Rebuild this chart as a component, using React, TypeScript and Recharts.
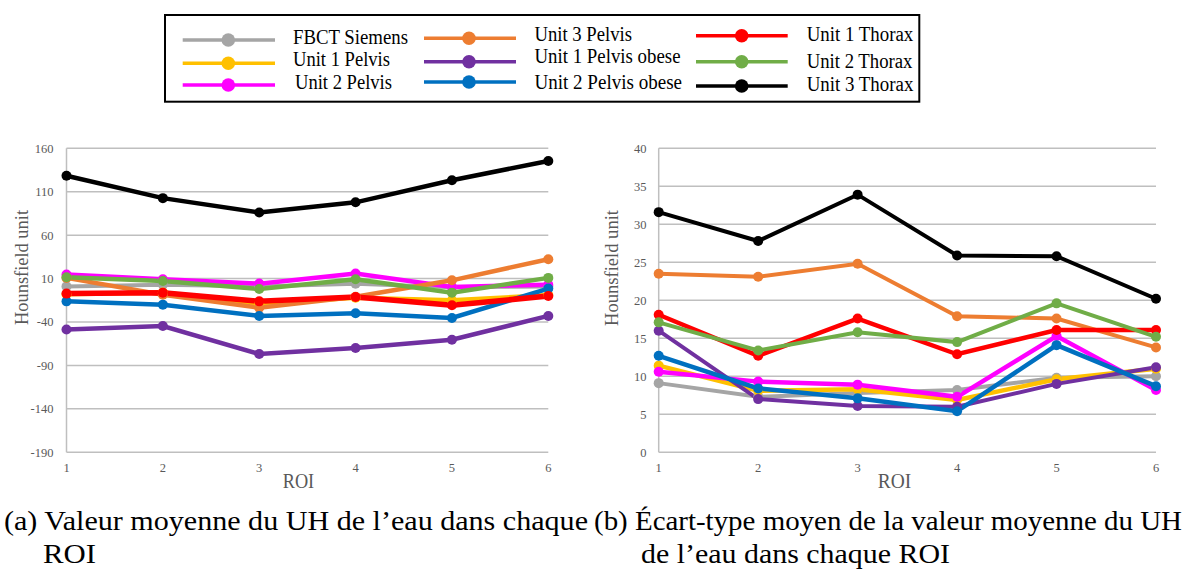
import React from 'react';
import { LineChart, Line, XAxis, YAxis, CartesianGrid } from 'recharts';

// ---------- data ----------
const roi = [1, 2, 3, 4, 5, 6];

const seriesNames = [
  'FBCT Siemens',
  'Unit 1 Pelvis',
  'Unit 2 Pelvis',
  'Unit 3 Pelvis',
  'Unit 1 Pelvis obese',
  'Unit 2 Pelvis obese',
  'Unit 1 Thorax',
  'Unit 2 Thorax',
  'Unit 3 Thorax',
];
const seriesKeys = ['fbct', 'u1p', 'u2p', 'u3p', 'u1po', 'u2po', 'u1t', 'u2t', 'u3t'];
const seriesColors = [
  '#A5A5A5',
  '#FFC000',
  '#FF00FF',
  '#ED7D31',
  '#7030A0',
  '#0070C0',
  '#FF0000',
  '#70AD47',
  '#000000',
];

// (a) mean HU of water per ROI
const meanFbct = [1, 3, 1, 4, 0, 1];
const meanU1Pelvis = [-8, -6, -19, -12, -15, -9];
const meanU2Pelvis = [14.6, 9.2, 4.2, 15.8, 0.4, 3];
const meanU3Pelvis = [10.8, -8.5, -23.5, -11, 8, 32.3];
const meanU1PelvisObese = [-48.7, -44.6, -76.8, -69.9, -60.4, -33];
const meanU2PelvisObese = [-16.2, -20, -33, -30, -35.4, -1.5];
const meanU1Thorax = [-7.3, -6.2, -16.2, -11.2, -20.8, -10];
const meanU2Thorax = [11.5, 7.3, -1.9, 9.2, -6.2, 10.8];
const meanU3Thorax = [128.4, 102.6, 86.1, 97.8, 123.2, 145.4];

// (b) mean standard deviation per ROI
const stdFbct = [9.1, 7.3, 7.8, 8.2, 9.8, 10];
const stdU1Pelvis = [11.4, 8.1, 8.3, 6.9, 9.6, 11];
const stdU2Pelvis = [10.6, 9.3, 8.9, 7.3, 15.3, 8.2];
const stdU3Pelvis = [23.5, 23.1, 24.8, 17.9, 17.6, 13.8];
const stdU1PelvisObese = [16, 7, 6.1, 6, 9, 11.2];
const stdU2PelvisObese = [12.7, 8.4, 7.1, 5.4, 14.1, 8.7];
const stdU1Thorax = [18.1, 12.7, 17.6, 12.9, 16.1, 16.1];
const stdU2Thorax = [17.1, 13.4, 15.8, 14.5, 19.6, 15.2];
const stdU3Thorax = [31.6, 27.8, 33.9, 25.9, 25.8, 20.2];

const meanTicks = [-190, -140, -90, -40, 10, 60, 110, 160];
const stdTicks = [0, 5, 10, 15, 20, 25, 30, 35, 40];

const meanSeries = [
  meanFbct, meanU1Pelvis, meanU2Pelvis, meanU3Pelvis, meanU1PelvisObese,
  meanU2PelvisObese, meanU1Thorax, meanU2Thorax, meanU3Thorax,
];
const stdSeries = [
  stdFbct, stdU1Pelvis, stdU2Pelvis, stdU3Pelvis, stdU1PelvisObese,
  stdU2PelvisObese, stdU1Thorax, stdU2Thorax, stdU3Thorax,
];

function buildRows(series: number[][]) {
  return roi.map((r, i) => {
    const row: Record<string, number> = { roi: r };
    seriesKeys.forEach((k, j) => {
      row[k] = series[j][i];
    });
    return row;
  });
}

const meanRows = buildRows(meanSeries);
const stdRows = buildRows(stdSeries);

const FONT = "'Liberation Serif', Tinos, 'DejaVu Serif', serif";
const TICK = { fontSize: 12.5, fill: '#595959', fontFamily: FONT };
const GRID = '#BFBFBF';

type PanelProps = {
  data: Record<string, number>[];
  ticks: number[];
  width: number;
  height: number;
  yWidth: number;
  right: number;
  tickMargin: number;
  thick: number[];
};

function Panel({ data, ticks, width, height, yWidth, right, tickMargin, thick }: PanelProps) {
  return (
    <LineChart
      width={width}
      height={height}
      data={data}
      margin={{ top: 18.3, right, bottom: 7.7, left: 0 }}
      style={{ fontFamily: FONT }}
    >
      <CartesianGrid vertical={false} stroke={GRID} strokeWidth={1.5} />
      <XAxis
        dataKey="roi"
        type="number"
        domain={[1, 6]}
        ticks={roi}
        interval={0}
        axisLine={false}
        tickLine={false}
        tickSize={0}
        tickMargin={10.5}
        height={30}
        tick={TICK}
      />
      <YAxis
        type="number"
        domain={[ticks[0], ticks[ticks.length - 1]]}
        ticks={ticks}
        interval={0}
        width={yWidth}
        axisLine={{ stroke: GRID, strokeWidth: 1.5 }}
        tickLine={false}
        tickSize={0}
        tickMargin={tickMargin}
        tick={TICK}
      />
      {seriesKeys.map((k, i) => (
        <Line
          key={k}
          dataKey={k}
          name={seriesNames[i]}
          type="linear"
          stroke={seriesColors[i]}
          strokeWidth={thick[i]}
          dot={{ r: 5, fill: seriesColors[i], stroke: seriesColors[i], strokeWidth: 0 }}
          activeDot={false}
          isAnimationActive={false}
        />
      ))}
    </LineChart>
  );
}

// legend layout: column-major 3x3
const legendCols = [
  { x1: 182.7, x2: 275, mx: 228.3, tx: 293 },
  { x1: 424, x2: 516, mx: 469, tx: 534.5 },
  { x1: 696, x2: 787.7, mx: 741.7, tx: 806.7 },
];
const legendRows = [
  [{ ly: 40, by: 44.3, w: 115 }, { ly: 63.3, by: 65.7, w: 97 }, { ly: 85, by: 89, w: 97 }],
  [{ ly: 38.3, by: 40.5, w: 97.5 }, { ly: 61.7, by: 63.3, w: 146 }, { ly: 82, by: 89.3, w: 147.5 }],
  [{ ly: 35.7, by: 41, w: 106.6 }, { ly: 61.7, by: 68.3, w: 105.7 }, { ly: 86, by: 91, w: 106.7 }],
];

function Overlay() {
  const items: React.ReactNode[] = [];
  legendCols.forEach((c, ci) => {
    legendRows[ci].forEach((r, ri) => {
      const idx = ci * 3 + ri;
      const col = seriesColors[idx];
      items.push(
        <g key={idx}>
          <line x1={c.x1} x2={c.x2} y1={r.ly} y2={r.ly} stroke={col} strokeWidth={3.5} />
          <circle cx={c.mx} cy={r.ly} r={6.8} fill={col} />
          <text
            x={c.tx + (idx === 2 ? 2 : 0)}
            y={r.by}
            fontSize={20}
            fill="#000"
            textLength={r.w}
            lengthAdjust="spacingAndGlyphs"
          >
            {seriesNames[idx]}
          </text>
        </g>
      );
    });
  });
  return (
    <svg
      width={1189}
      height={570}
      style={{ position: 'absolute', left: 0, top: 0, pointerEvents: 'none', fontFamily: FONT }}
    >
      <rect x={165} y={15} width={754.3} height={86.7} fill="none" stroke="#000" strokeWidth={2} />
      {items}

      {/* axis titles */}
      <text
        transform="translate(27.5,267.5) rotate(-90)"
        textAnchor="middle"
        fontSize={19}
        fill="#595959"
        textLength={115}
        lengthAdjust="spacingAndGlyphs"
      >
        Hounsfield unit
      </text>
      <text
        transform="translate(618,268) rotate(-90)"
        textAnchor="middle"
        fontSize={19}
        fill="#595959"
        textLength={116}
        lengthAdjust="spacingAndGlyphs"
      >
        Hounsfield unit
      </text>
      <text x={282.7} y={487.5} fontSize={20} fill="#595959" textLength={31.5} lengthAdjust="spacingAndGlyphs">
        ROI
      </text>
      <text x={877.8} y={488} fontSize={20} fill="#595959" textLength={33.5} lengthAdjust="spacingAndGlyphs">
        ROI
      </text>

      {/* captions */}
      <text x={4} y={530} fontSize={28} fill="#000" textLength={584} lengthAdjust="spacingAndGlyphs">
        (a) Valeur moyenne du UH de l’eau dans chaque
      </text>
      <text x={43} y={563} fontSize={28} fill="#000" textLength={53} lengthAdjust="spacingAndGlyphs">
        ROI
      </text>
      <text x={594} y={530} fontSize={28} fill="#000" textLength={588} lengthAdjust="spacingAndGlyphs">
        (b) Écart-type moyen de la valeur moyenne du UH
      </text>
      <text x={641} y={563} fontSize={28} fill="#000" textLength={309} lengthAdjust="spacingAndGlyphs">
        de l’eau dans chaque ROI
      </text>
    </svg>
  );
}

const meanThick = [4, 4.5, 4.5, 4.5, 4.5, 4.5, 5.5, 4.5, 4.5];
const stdThick = [4, 4.5, 4.5, 4, 4, 4.5, 4.5, 4, 4];

export default function App() {
  return (
    <div
      style={{
        position: 'fixed',
        left: 0,
        top: 0,
        width: 1189,
        height: 570,
        background: '#fff',
        fontFamily: FONT,
        overflow: 'hidden',
      }}
    >
      <div style={{ position: 'absolute', left: 0, top: 130 }}>
        <Panel
          data={meanRows}
          ticks={meanTicks}
          width={570}
          height={360}
          yWidth={66.5}
          right={21.7}
          tickMargin={13}
          thick={meanThick}
        />
      </div>
      <div style={{ position: 'absolute', left: 590, top: 130 }}>
        <Panel
          data={stdRows}
          ticks={stdTicks}
          width={590}
          height={360}
          yWidth={68.7}
          right={24}
          tickMargin={12.3}
          thick={stdThick}
        />
      </div>
      <Overlay />
    </div>
  );
}
